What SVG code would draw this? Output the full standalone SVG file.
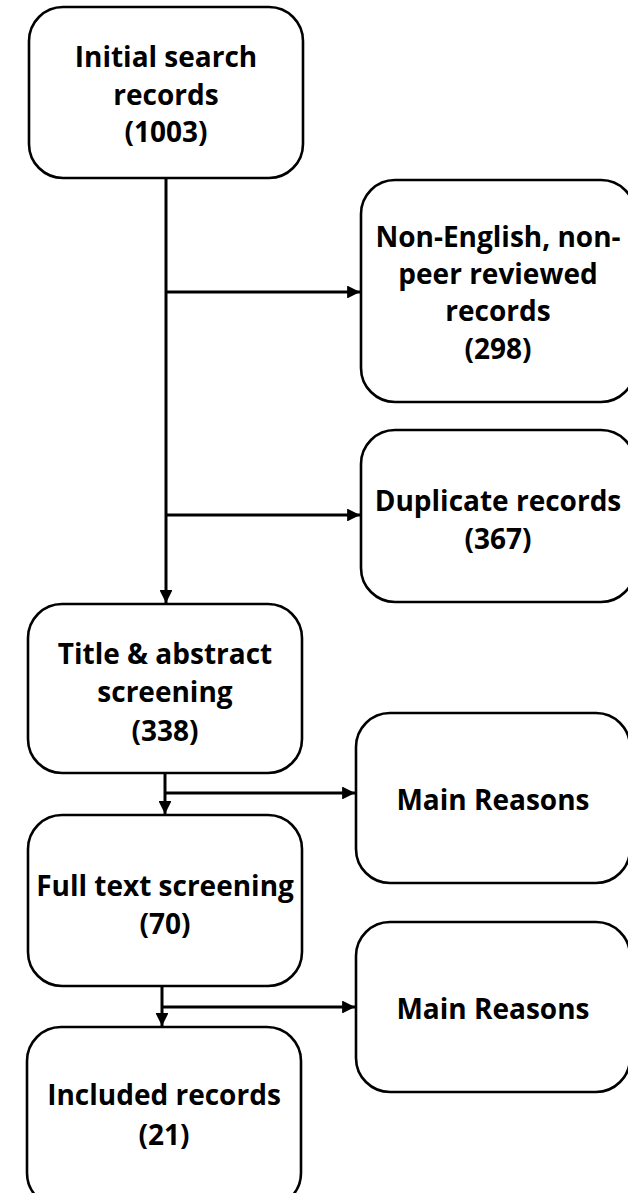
<svg xmlns="http://www.w3.org/2000/svg" width="628" height="1193" viewBox="0 0 628 1193">
<style>
.box{fill:#fff;stroke:#000;stroke-width:2.6}
.t{font-family:"Open Sans",sans-serif;font-weight:700;font-size:28px;fill:#000;text-anchor:middle}
.c{fill:none;stroke:#000;stroke-width:3}
</style>
<defs>
<marker id="ah" viewBox="0 0 10 10" refX="10" refY="5" markerWidth="4.3" markerHeight="4.3" markerUnits="strokeWidth" orient="auto">
<path d="M0,0 L10,5 L0,10 Z" fill="#000"/>
</marker>
</defs>
<g id="n1"><rect class="box" x="29" y="7" width="274" height="171" rx="34"/>
<text class="t" x="166" y="67">Initial search</text><text class="t" x="166" y="105">records</text><text class="t" x="166" y="142">(1003)</text></g>
<g id="n2"><rect class="box" x="361" y="180" width="274" height="222" rx="34"/>
<text class="t" x="498" y="247">Non-English, non-</text><text class="t" x="498" y="284">peer reviewed</text><text class="t" x="498" y="321">records</text><text class="t" x="498" y="359">(298)</text></g>
<g id="n3"><rect class="box" x="361" y="430" width="274" height="172" rx="34"/>
<text class="t" x="498" y="511">Duplicate records</text><text class="t" x="498" y="549">(367)</text></g>
<g id="n4"><rect class="box" x="28" y="604" width="274" height="169" rx="34"/>
<text class="t" x="165" y="664">Title &amp; abstract</text><text class="t" x="165" y="702">screening</text><text class="t" x="165" y="741">(338)</text></g>
<g id="n5"><rect class="box" x="356" y="713" width="274" height="170" rx="34"/>
<text class="t" x="493" y="810">Main Reasons</text></g>
<g id="n6"><rect class="box" x="28" y="815" width="274" height="171" rx="34"/>
<text class="t" x="165" y="896">Full text screening</text><text class="t" x="165" y="934">(70)</text></g>
<g id="n7"><rect class="box" x="356" y="922" width="274" height="170" rx="34"/>
<text class="t" x="493" y="1019">Main Reasons</text></g>
<g id="n8"><rect class="box" x="27" y="1027" width="274" height="180" rx="34"/>
<text class="t" x="164" y="1105">Included records</text><text class="t" x="164" y="1145">(21)</text></g>
<g id="connectors">
<path class="c" d="M166,178 V603" marker-end="url(#ah)"/>
<path class="c" d="M166,292 H360" marker-end="url(#ah)"/>
<path class="c" d="M166,515 H360" marker-end="url(#ah)"/>
<path class="c" d="M165,773 V814" marker-end="url(#ah)"/>
<path class="c" d="M165,793 H355" marker-end="url(#ah)"/>
<path class="c" d="M162,986 V1026" marker-end="url(#ah)"/>
<path class="c" d="M162,1007 H355" marker-end="url(#ah)"/>
</g>
</svg>
